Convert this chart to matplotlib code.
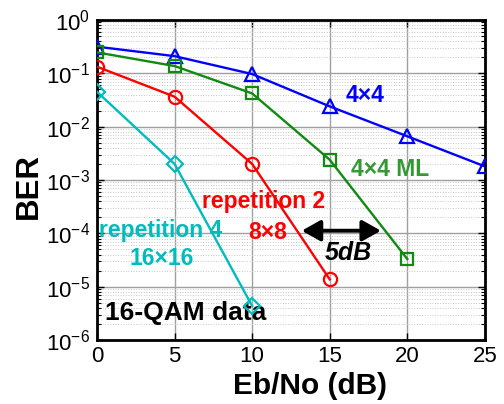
import matplotlib
matplotlib.use("Agg")
import matplotlib.pyplot as plt
from matplotlib.ticker import LogLocator, FixedLocator, NullFormatter

plt.rcParams['font.family'] = ['Liberation Sans', 'DejaVu Sans']
plt.rcParams['mathtext.fontset'] = 'custom'
plt.rcParams['mathtext.rm'] = 'Liberation Sans'
plt.rcParams['mathtext.it'] = 'Liberation Sans:italic'
plt.rcParams['mathtext.bf'] = 'Liberation Sans:bold'

# Data
snr_4x4 = [0, 5, 10, 15, 20, 25]
ber_4x4 = [0.316, 0.21, 0.097, 0.024, 0.0066, 0.0018]
snr_ml = [0, 5, 10, 15, 20]
ber_ml = [0.247, 0.137, 0.042, 0.0024, 3.3e-5]
snr_8x8 = [0, 5, 10, 15]
ber_8x8 = [0.133, 0.0365, 0.0020, 1.37e-5]
snr_16 = [0, 5, 10]
ber_16 = [0.045, 0.002, 4.35e-6]

x_ticks = [0, 5, 10, 15, 20, 25]
y_exps = [-6, -5, -4, -3, -2, -1, 0]

fig = plt.figure(figsize=(5.04, 4.04), dpi=100)
ax = fig.add_axes([0.1925, 0.1584, 0.7695, 0.7921])

lw = 1.7
ax.plot(snr_4x4, ber_4x4, color='#0000ff', lw=lw, marker='^', ms=10.5, mfc='none', mew=1.6, zorder=5)
ax.plot(snr_ml, ber_ml, color='#108a10', lw=lw, marker='s', ms=8, mfc='none', mew=1.6, zorder=5)
ax.plot(snr_8x8, ber_8x8, color='#ff0000', lw=lw, marker='o', ms=9.5, mfc='none', mew=1.6, zorder=5)
ax.plot(snr_16, ber_16, color='#00bcbc', lw=lw, marker='D', ms=8.5, mfc='none', mew=1.6, zorder=5)

ax.set_yscale('log')
ax.set_xlim(0, 25)
ax.set_ylim(1e-6, 1)
ax.xaxis.set_major_locator(FixedLocator(x_ticks))
ax.yaxis.set_major_locator(FixedLocator([10.0**e for e in y_exps]))
ax.set_yticklabels([r'$\mathregular{10^{%d}}$' % e for e in y_exps])
ax.yaxis.set_minor_locator(LogLocator(base=10, subs=range(2, 10), numticks=20))
ax.yaxis.set_minor_formatter(NullFormatter())

ax.grid(True, which='major', color='#a0a0a0', lw=1.0, ls='-')
ax.grid(True, which='minor', axis='y', color='#c8c8c8', lw=0.7, ls=':')
ax.set_axisbelow(True)

ax.tick_params(which='both', direction='in', top=True, right=True, labelsize=16)
ax.tick_params(which='major', length=5, width=1)
ax.tick_params(which='minor', length=3, width=0.8)
ax.tick_params(axis='y', pad=5)
ax.tick_params(axis='x', pad=4)
for s in ax.spines.values():
    s.set_linewidth(2)

ax.set_xlabel('Eb/No (dB)', fontsize=21.5, fontweight='bold', va='top')
ax.xaxis.set_label_coords(0.55, -0.1)
ax.set_ylabel('BER', fontsize=22.5, fontweight='bold', va='bottom')
ax.yaxis.set_label_coords(-0.138, 0.48)

fs = 16.5
ax.text(17.27, 0.039, '4×4', color='#0000ff', fontsize=fs, fontweight='bold', ha='center', va='center')
ax.text(18.88, 0.00155, '4×4 ML', color='#339933', fontsize=fs, fontweight='bold', ha='center', va='center')
ax.text(10.73, 3.9e-4, 'repetition 2', color='#ff0000', fontsize=fs, fontweight='bold', ha='center', va='center')
ax.text(10.99, 1.02e-4, '8×8', color='#ff0000', fontsize=fs, fontweight='bold', ha='center', va='center')
ax.text(4.12, 1.15e-4, 'repetition 4', color='#00bcbc', fontsize=fs, fontweight='bold', ha='center', va='center')
ax.text(4.19, 3.4e-5, '16×16', color='#00bcbc', fontsize=fs, fontweight='bold', ha='center', va='center')
ax.text(0.5, 3.2e-6, '16-QAM data', color='black', fontsize=19, fontweight='bold', ha='left', va='center')
ax.text(16.17, 4.3e-5, '5dB', color='black', fontsize=18, fontweight='bold', style='italic', ha='center', va='center')

ax.annotate('', xy=(13.2, 1.12e-4), xytext=(18.3, 1.12e-4),
            arrowprops=dict(arrowstyle='<|-|>,head_length=0.8,head_width=0.45', color='black', lw=2.8,
                            mutation_scale=14, shrinkA=0, shrinkB=0))

fig.savefig('out.png', dpi=100)
